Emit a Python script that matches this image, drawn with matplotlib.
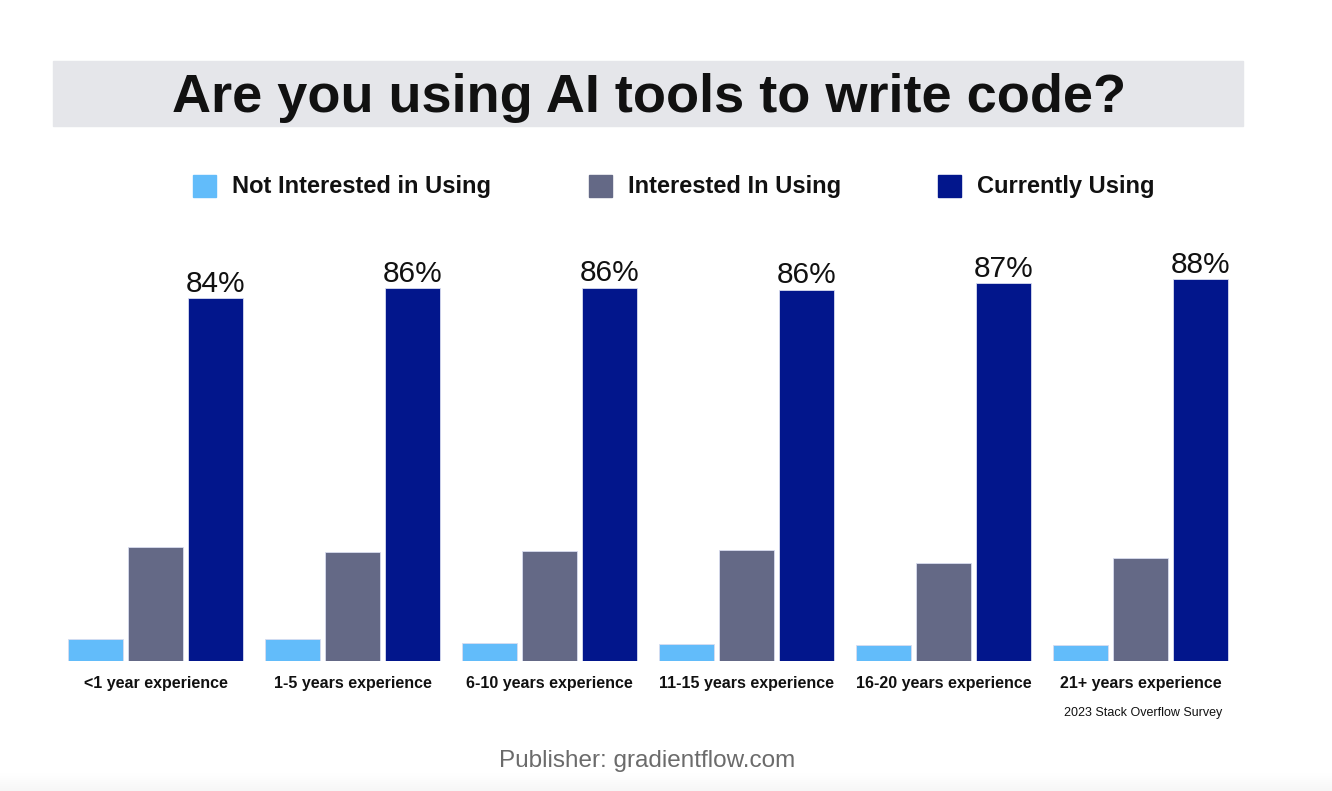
import numpy as np
import matplotlib.pyplot as plt
from matplotlib.patches import Rectangle

plt.rcParams['font.family'] = ['Liberation Sans', 'DejaVu Sans']

# Data (percent of respondents)
categories = ["<1 year experience", "1-5 years experience", "6-10 years experience",
              "11-15 years experience", "16-20 years experience", "21+ years experience"]
not_interested = [5.1, 5.1, 4.2, 3.9, 3.7, 3.7]
interested = [26.4, 25.2, 25.5, 25.7, 22.7, 23.8]
currently_using = [84.0, 86.3, 86.4, 85.9, 87.4, 88.3]
series_names = ["Not Interested in Using", "Interested In Using", "Currently Using"]
colors = ["#62bcfa", "#646986", "#02168c"]

W, H = 1332, 791
fig = plt.figure(figsize=(W / 100, H / 100), dpi=100)

# title band
fig.patches.append(Rectangle((53 / W, 1 - 126 / H), (1243 - 53) / W, 65 / H,
                             transform=fig.transFigure, color="#e5e6ea", zorder=0))
fig.text(649 / W, 1 - 112 / H, "Are you using AI tools to write code?", ha="center",
         va="baseline", fontsize=39, fontweight="bold", color="#111111")

# legend row
leg_x = [193, 589, 938]
for name, c, lx in zip(series_names, colors, leg_x):
    fig.patches.append(Rectangle((lx / W, 1 - 197 / H), 23 / W, 22 / H,
                                 transform=fig.transFigure, color=c))
    fig.text((lx + 39) / W, 1 - 186 / H, name, ha="left", va="center",
             fontsize=17, fontweight="bold", color="#111111")

# bars
ax = fig.add_axes([57 / W, (H - 661) / H, 6 * 197 / W, 432.1 / H])
x = np.arange(len(categories))
bw = 55 / 197
off = 60 / 197
for i, (vals, c) in enumerate(zip([not_interested, interested, currently_using], colors)):
    bars = ax.bar(x + (i - 1) * off, vals, width=bw, color=c, edgecolor="#d8dcef", linewidth=0.6)
    if i == 2:
        for b, v in zip(bars, vals):
            ax.text(b.get_x() + b.get_width() / 2, v + 0.1, f"{round(v)}%", ha="center",
                    va="bottom", fontsize=21.5, color="#111111")

ax.set_xlim(-0.5, 5.5)
ax.set_ylim(0, 100)
ax.set_xticks(x)
ax.set_xticklabels(categories, fontsize=11.5, fontweight="bold", color="#111111")
ax.tick_params(axis="x", length=0, pad=11)
ax.set_yticks([])
for s in ax.spines.values():
    s.set_visible(False)
ax.patch.set_alpha(0)

fig.text(1222 / W, 1 - 713 / H, "2023 Stack Overflow Survey", ha="right", va="center",
         fontsize=9, color="#111111")

fig.text(647 / W, 1 - 761 / H, "Publisher: gradientflow.com", ha="center", va="center",
         fontsize=17.5, color="#6b6b6b")

# faint grey fade at the bottom edge
fade = fig.add_axes([0, 0, 1, 18 / H])
fade.imshow(np.linspace(0, 1, 50).reshape(-1, 1), aspect="auto", cmap="Greys",
            vmin=0, vmax=14, extent=[0, 1, 0, 1])
fade.axis("off")

fig.savefig("out.png", dpi=100)
